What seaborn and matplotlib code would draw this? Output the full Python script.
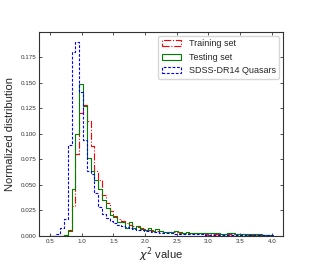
import numpy as np
import pandas as pd
import matplotlib
matplotlib.use("Agg")
import matplotlib.pyplot as plt
from matplotlib.patches import Patch
import seaborn as sns

# 59 bins of width 0.06 from 0.48 to 4.02; normalized heights
bin_lo, bin_hi, n_bins = 0.48, 4.02, 59

training = [0, 0, 0, 0, 0.001, 0.005, 0.029, 0.080, 0.120, 0.128,
            0.113, 0.088, 0.064, 0.055, 0.040, 0.032, 0.024, 0.020, 0.017, 0.015,
            0.013, 0.011, 0.0095, 0.0085, 0.0075, 0.0065, 0.006, 0.0055, 0.005, 0.0045,
            0.004, 0.004, 0.0035, 0.0035, 0.003, 0.003, 0.003, 0.0028, 0.0025, 0.0025,
            0.0025, 0.0022, 0.002, 0.002, 0.002, 0.002, 0.0018, 0.0018, 0.0016, 0.0016,
            0.0015, 0.0015, 0.0014, 0.0013, 0.0012, 0.0012, 0.0011, 0.001, 0.001]

testing = [0, 0, 0, 0, 0.001, 0.006, 0.046, 0.100, 0.149, 0.127,
           0.076, 0.064, 0.055, 0.046, 0.035, 0.027, 0.0205, 0.0185, 0.014, 0.014,
           0.0075, 0.014, 0.008, 0.010, 0.0065, 0.006, 0.0075, 0.005, 0.0065, 0.005,
           0.0035, 0.0035, 0.0035, 0.005, 0.0035, 0.003, 0.0035, 0.003, 0.0025, 0.0025,
           0.0025, 0.0025, 0.0025, 0.0025, 0.003, 0.002, 0.002, 0.003, 0.003, 0.002,
           0.0015, 0.0015, 0.0015, 0.0015, 0.0015, 0.0015, 0.001, 0.001, 0.001]

quasars = [0, 0.0003, 0.002, 0.008, 0.017, 0.089, 0.180, 0.190, 0.141, 0.094,
           0.064, 0.061, 0.042, 0.028, 0.022, 0.018, 0.015, 0.013, 0.011, 0.0095,
           0.0085, 0.0075, 0.0068, 0.006, 0.0055, 0.005, 0.0045, 0.004, 0.0036, 0.0033,
           0.003, 0.0028, 0.0026, 0.0024, 0.0022, 0.002, 0.0019, 0.0018, 0.0017, 0.0016,
           0.0015, 0.0014, 0.0013, 0.0013, 0.0012, 0.0012, 0.0011, 0.0011, 0.001, 0.001,
           0.0009, 0.0009, 0.0008, 0.0008, 0.0008, 0.0007, 0.0007, 0.0006, 0.0006]

labels = ["Training set", "Testing set", "SDSS-DR14 Quasars"]
colors = ["red", "green", "blue"]
styles = ["-.", "-", (0, (2.5, 1.5))]

width = (bin_hi - bin_lo) / n_bins
centers = bin_lo + width * (np.arange(n_bins) + 0.5)

sns.set_style("ticks")
plt.rcParams["font.family"] = ["Liberation Sans", "DejaVu Sans"]

fig = plt.figure(figsize=(3.15, 2.7), dpi=100)
ax = fig.add_axes([0.124, 0.126, 0.774, 0.755])

for vals, lab, col, ls in zip([training, testing, quasars], labels, colors, styles):
    df = pd.DataFrame({"chi2": centers, "w": vals})
    sns.histplot(data=df, x="chi2", weights="w", bins=n_bins, binrange=(bin_lo, bin_hi),
                 element="step", fill=False, color=col, linestyle=ls, linewidth=0.8, ax=ax)

ax.set_xlim(0.325, 4.175)
ax.set_ylim(0, 0.1995)
xt = np.arange(0.5, 4.01, 0.5)
yt = np.arange(0, 0.176, 0.025)
ax.set_xticks(xt)
ax.set_yticks(yt)
ax.set_xticklabels([f"{t:.1f}" for t in xt])
ax.set_yticklabels([f"{t:.3f}" for t in yt])
ax.tick_params(direction="in", top=True, right=True, labelsize=4.5,
               length=2.5, width=0.6, colors="#333333", pad=2)
for s in ax.spines.values():
    s.set_linewidth(0.8)
    s.set_color("#333333")

ax.set_xlabel(r"$\chi^2$ value", fontsize=8, labelpad=1)
ax.set_ylabel("Normalized distribution", fontsize=8, labelpad=4)

handles = [Patch(facecolor="none", edgecolor=c, linestyle=ls, linewidth=0.8)
           for c, ls in zip(colors, styles)]
ax.legend(handles, labels, loc="upper right", fontsize=6.5, frameon=True,
          borderaxespad=0.4, handlelength=2.2, handleheight=0.6, labelspacing=0.5)

plt.savefig("out.png", dpi=100)
